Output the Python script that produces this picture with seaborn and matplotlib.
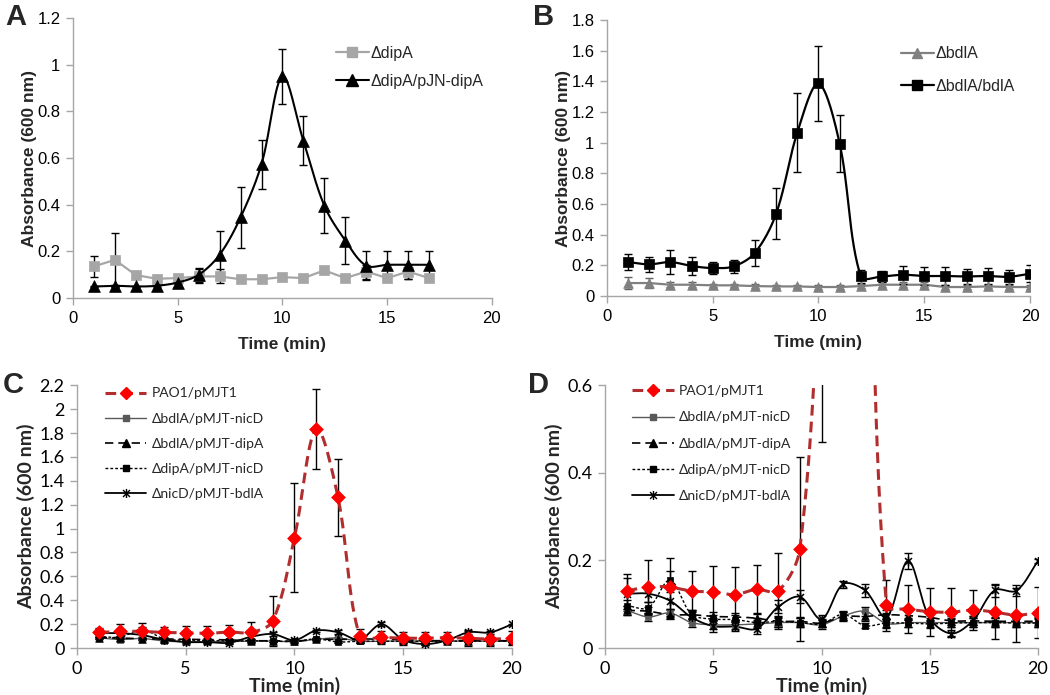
import numpy as np
import matplotlib
matplotlib.use("Agg")
import matplotlib.pyplot as plt
from matplotlib.lines import Line2D
from matplotlib.path import Path
from matplotlib.ticker import FuncFormatter, MultipleLocator
import seaborn as sns

# ---------------- data ----------------
time_a = [1, 2, 3, 4, 5, 6, 7, 8, 9, 10, 11, 12, 13, 14, 15, 16, 17]
dipA = [0.136, 0.164, 0.099, 0.083, 0.086, 0.093, 0.093, 0.081, 0.081, 0.090, 0.086, 0.119, 0.086, 0.114, 0.086, 0.114, 0.086]
dipA_err = [0.045, 0.115, 0.008, 0.006, 0.006, 0.03, 0.03, 0.006, 0.006, 0.006, 0.006, 0.008, 0.006, 0.03, 0.006, 0.03, 0.006]
dipA_pJN = [0.050, 0.053, 0.050, 0.053, 0.067, 0.100, 0.186, 0.346, 0.574, 0.950, 0.674, 0.396, 0.247, 0.139, 0.143, 0.143, 0.143]
dipA_pJN_err = [0.004, 0.004, 0.004, 0.004, 0.008, 0.03, 0.10, 0.13, 0.105, 0.117, 0.105, 0.117, 0.10, 0.063, 0.06, 0.06, 0.06]

time_b = list(range(1, 21))
bdlA = [0.085, 0.085, 0.074, 0.074, 0.070, 0.070, 0.065, 0.063, 0.063, 0.059, 0.059, 0.065, 0.074, 0.074, 0.074, 0.059, 0.059, 0.063, 0.059, 0.059]
bdlA_err = [0.04, 0.033, 0.015, 0.015, 0.012, 0.012, 0.012, 0.012, 0.012, 0.01, 0.01, 0.012, 0.015, 0.015, 0.015, 0.012, 0.012, 0.012, 0.012, 0.012]
bdlA_comp = [0.222, 0.207, 0.222, 0.196, 0.183, 0.194, 0.283, 0.538, 1.067, 1.387, 0.995, 0.128, 0.128, 0.139, 0.131, 0.131, 0.128, 0.131, 0.126, 0.146]
bdlA_comp_err = [0.05, 0.048, 0.076, 0.06, 0.04, 0.043, 0.085, 0.168, 0.256, 0.246, 0.187, 0.04, 0.035, 0.06, 0.058, 0.058, 0.05, 0.052, 0.046, 0.054]

time_cd = list(range(1, 21))
pao1 = [0.130, 0.140, 0.139, 0.130, 0.128, 0.122, 0.134, 0.130, 0.227, 0.925, 1.838, 1.262, 0.098, 0.089, 0.083, 0.082, 0.087, 0.082, 0.075, 0.081]
pao1_err = [0.04, 0.062, 0.067, 0.045, 0.06, 0.062, 0.055, 0.087, 0.21, 0.455, 0.335, 0.322, 0.058, 0.055, 0.055, 0.055, 0.045, 0.062, 0.062, 0.058]
bdlA_nicD = [0.086, 0.071, 0.080, 0.058, 0.053, 0.053, 0.055, 0.058, 0.058, 0.053, 0.073, 0.084, 0.056, 0.058, 0.058, 0.058, 0.058, 0.058, 0.058, 0.058]
bdlA_nicD_err = [0.01] * 20
bdlA_dipA = [0.086, 0.084, 0.076, 0.076, 0.072, 0.071, 0.068, 0.061, 0.061, 0.057, 0.072, 0.072, 0.076, 0.074, 0.070, 0.062, 0.062, 0.061, 0.061, 0.061]
bdlA_dipA_err = [0.01] * 20
dipA_nicD = [0.097, 0.092, 0.155, 0.077, 0.066, 0.065, 0.058, 0.061, 0.058, 0.055, 0.077, 0.051, 0.057, 0.057, 0.055, 0.057, 0.058, 0.058, 0.057, 0.057]
dipA_nicD_err = [0.012, 0.012, 0.02, 0.01, 0.01, 0.01, 0.01, 0.012, 0.01, 0.008, 0.008, 0.006, 0.01, 0.01, 0.01, 0.01, 0.01, 0.01, 0.01, 0.01]
nicD_bdlA = [0.124, 0.124, 0.108, 0.070, 0.050, 0.049, 0.044, 0.094, 0.117, 0.066, 0.146, 0.132, 0.070, 0.199, 0.068, 0.033, 0.063, 0.132, 0.131, 0.199]
nicD_bdlA_err = [0.035, 0.02, 0.02, 0.012, 0.014, 0.01, 0.012, 0.015, 0.015, 0.01, 0.008, 0.015, 0.01, 0.018, 0.012, 0.008, 0.01, 0.015, 0.012, 0.005]

labels_a = ["\u0394dipA", "\u0394dipA/pJN-dipA"]
labels_b = ["\u0394bdlA", "\u0394bdlA/bdlA"]
labels_cd = ["PAO1/pMJT1", "\u0394bdlA/pMJT-nicD", "\u0394bdlA/pMJT-dipA",
             "\u0394dipA/pMJT-nicD", "\u0394nicD/pMJT-bdlA"]

# ---------------- style ----------------
sns.set_theme(style="ticks")
plt.rcParams["font.family"] = ["Liberation Sans", "DejaVu Sans"]
GRID = "#A6A6A6"
FIG_W, FIG_H = 1050, 695

star = Path([(-1, -1), (1, 1), (-1, 1), (1, -1), (0, -1.3), (0, 1.3)],
            [Path.MOVETO, Path.LINETO, Path.MOVETO, Path.LINETO, Path.MOVETO, Path.LINETO])


def smooth_curve(ax, x, y, n=30):
    """Excel-like smoothed line: cubic Bezier through the points, with tangents
    weighted by on-screen segment lengths."""
    pos = ax.get_position()
    x0, x1 = ax.get_xlim()
    y0, y1 = ax.get_ylim()
    sx = FIG_W * pos.width / (x1 - x0)
    sy = FIG_H * pos.height / (y1 - y0)
    p = np.column_stack([np.asarray(x, float) * sx, np.asarray(y, float) * sy])
    m = len(p)
    d = np.hypot(*(np.diff(p, axis=0).T))
    tang = np.zeros_like(p)
    fwd = np.zeros(m)
    bwd = np.zeros(m)
    for i in range(m):
        prev_p = p[i - 1] if i > 0 else p[i]
        next_p = p[i + 1] if i < m - 1 else p[i]
        tang[i] = next_p - prev_p
        dl = d[i - 1] if i > 0 else 0.0
        dr = d[i] if i < m - 1 else 0.0
        tot = dl + dr
        fwd[i] = dr / tot / 3.0 if tot > 0 else 0
        bwd[i] = dl / tot / 3.0 if tot > 0 else 0
    out = []
    t = np.linspace(0, 1, n)[:, None]
    for i in range(m - 1):
        p1, p2 = p[i], p[i + 1]
        c1 = p1 + tang[i] * fwd[i]
        c2 = p2 - tang[i + 1] * bwd[i + 1]
        seg = ((1 - t) ** 3) * p1 + 3 * ((1 - t) ** 2) * t * c1 + 3 * (1 - t) * t ** 2 * c2 + t ** 3 * p2
        out.append(seg if i == 0 else seg[1:])
    s = np.vstack(out)
    return s[:, 0] / sx, s[:, 1] / sy


def draw(ax, x, y, err, color, lw, marker, ms, mfc=None, smooth=True, dashes=None,
         ecolor="black", mec=None, z=3):
    if smooth:
        xs, ys = smooth_curve(ax, x, y)
    else:
        xs, ys = x, y
    ln, = ax.plot(xs, ys, color=color, lw=lw, zorder=z)
    if dashes is not None:
        ln.set_dashes(dashes)
    ax.errorbar(x, y, yerr=err, fmt="none", ecolor=ecolor, elinewidth=1.0,
                capsize=3.0, capthick=1.0, zorder=z - 0.5)
    if marker is star:
        ax.plot(x, y, ls="none", marker=star, ms=ms, mfc="none",
                mec=mec or color, mew=1.1, zorder=z + 1)
    else:
        sns.scatterplot(x=x, y=y, marker=marker, s=ms ** 2, color=mfc or color,
                        edgecolor=mec or (mfc or color), linewidth=0.5,
                        ax=ax, zorder=z + 1, legend=False)


def setup_axes(ax, ymax, ystep):
    ax.set_xlim(0, 20)
    ax.set_ylim(0, ymax)
    ax.xaxis.set_major_locator(MultipleLocator(5))
    ax.yaxis.set_major_locator(MultipleLocator(ystep))


def style_axes(ax, fontfam, xlabelpad, ylabelpad, ticksize, labsize):
    for side in ("top", "right"):
        ax.spines[side].set_visible(False)
    for side in ("left", "bottom"):
        ax.spines[side].set_color(GRID)
        ax.spines[side].set_linewidth(1.0)
    ax.yaxis.set_major_formatter(FuncFormatter(lambda v, p: "%g" % round(v, 3)))
    ax.tick_params(direction="out", length=5, width=1.0, color=GRID,
                   labelsize=ticksize, labelcolor="black", pad=4)
    for lab in ax.get_xticklabels() + ax.get_yticklabels():
        lab.set_family(fontfam)
    ax.set_xlabel("Time (min)", fontsize=labsize, fontweight="bold", family=fontfam, labelpad=xlabelpad)
    ax.set_ylabel("Absorbance (600 nm)", fontsize=labsize, fontweight="bold", family=fontfam, labelpad=ylabelpad)
    ax.set_facecolor("white")


fig = plt.figure(figsize=(10.5, 6.95), dpi=100)
fig.patch.set_facecolor("white")
axA = fig.add_axes([0.0695, 0.571, 0.399, 0.403])
axB = fig.add_axes([0.578, 0.574, 0.403, 0.397])
axC = fig.add_axes([0.0733, 0.0676, 0.4143, 0.378])
axD = fig.add_axes([0.5762, 0.0676, 0.4124, 0.378])

fontAB = ["Liberation Sans", "DejaVu Sans"]
fontCD = ["Lato", "Liberation Sans", "DejaVu Sans"]

setup_axes(axA, 1.2, 0.2)
setup_axes(axB, 1.8, 0.2)
setup_axes(axC, 2.2, 0.2)
setup_axes(axD, 0.6, 0.2)

# ---- A ----
draw(axA, time_a, dipA, dipA_err, "#A6A6A6", 1.6, "s", 7.5, smooth=False, z=3)
draw(axA, time_a, dipA_pJN, dipA_pJN_err, "black", 1.5, "^", 8.5, z=4)
style_axes(axA, fontAB, 8, 0, 12, 12.5)
hA = [Line2D([], [], color="#A6A6A6", lw=1.6, marker="s", ms=7.5),
      Line2D([], [], color="black", lw=1.5, marker="^", ms=8.5)]
axA.legend(hA, labels_a, loc="upper left", bbox_to_anchor=(0.628, 0.90), frameon=False,
           handlelength=2.05, handletextpad=0.1, labelspacing=0.8, borderaxespad=0, borderpad=0,
           prop={"family": fontAB, "size": 11.5})

# ---- B ----
draw(axB, time_b, bdlA, bdlA_err, "#808080", 1.6, "^", 7, smooth=False, ecolor="#606060", z=3)
draw(axB, time_b, bdlA_comp, bdlA_comp_err, "black", 1.6, "s", 7, z=4)
style_axes(axB, fontAB, 8, 0, 12, 12.5)
hB = [Line2D([], [], color="#808080", lw=1.6, marker="^", ms=7),
      Line2D([], [], color="black", lw=1.6, marker="s", ms=7)]
axB.legend(hB, labels_b, loc="upper left", bbox_to_anchor=(0.695, 0.905), frameon=False,
           handlelength=2.05, handletextpad=0.1, labelspacing=1.1, borderaxespad=0, borderpad=0,
           prop={"family": fontAB, "size": 11.5})

# ---- C & D ----
RED_LINE = "#B22E2E"
RED_MK = "#FF0000"
for ax in (axC, axD):
    draw(ax, time_cd, bdlA_nicD, bdlA_nicD_err, "#595959", 1.0, "s", 4.5, z=3)
    draw(ax, time_cd, bdlA_dipA, bdlA_dipA_err, "black", 1.2, "^", 5.5, dashes=(5, 3), z=3)
    draw(ax, time_cd, dipA_nicD, dipA_nicD_err, "black", 1.0, "s", 5, dashes=(2, 1.5), z=3)
    draw(ax, time_cd, nicD_bdlA, nicD_bdlA_err, "black", 1.3, star, 6.5, z=3)
    draw(ax, time_cd, pao1, pao1_err, RED_LINE, 2.2, "D", 7, mfc=RED_MK, dashes=(3.5, 2), z=5)

style_axes(axC, fontCD, 0, 3, 13, 14)
style_axes(axD, fontCD, 0, 3, 13, 14)


def cd_handles():
    h = []
    l0 = Line2D([], [], color=RED_LINE, lw=2.2, marker="D", ms=6.5, mfc=RED_MK, mec=RED_MK)
    l0.set_dashes((3.5, 2))
    h.append(l0)
    h.append(Line2D([], [], color="#595959", lw=1.0, marker="s", ms=4.5))
    l2 = Line2D([], [], color="black", lw=1.2, marker="^", ms=5.5)
    l2.set_dashes((5, 3))
    h.append(l2)
    l3 = Line2D([], [], color="black", lw=1.0, marker="s", ms=5)
    l3.set_dashes((2, 1.5))
    h.append(l3)
    h.append(Line2D([], [], color="black", lw=1.3, marker=star, ms=6.5, mfc="none"))
    return h


axC.legend(cd_handles(), labels_cd, loc="upper left", bbox_to_anchor=(0.064, 0.992), frameon=False,
           handlelength=3.0, handletextpad=0.35, labelspacing=0.95, borderaxespad=0, borderpad=0,
           prop={"family": fontCD, "size": 10})
axD.legend(cd_handles(), labels_cd, loc="upper left", bbox_to_anchor=(0.062, 1.0), frameon=False,
           handlelength=3.0, handletextpad=0.35, labelspacing=1.02, borderaxespad=0, borderpad=0,
           prop={"family": fontCD, "size": 10})

# panel letters
for txt, (x, y) in zip("ABCD", [(0.005, 0.995), (0.508, 0.995), (0.003, 0.466), (0.503, 0.466)]):
    fig.text(x, y, txt, fontsize=21, fontweight="bold", va="top", ha="left", family=fontAB)

fig.savefig("out.png", dpi=100, facecolor="white")
